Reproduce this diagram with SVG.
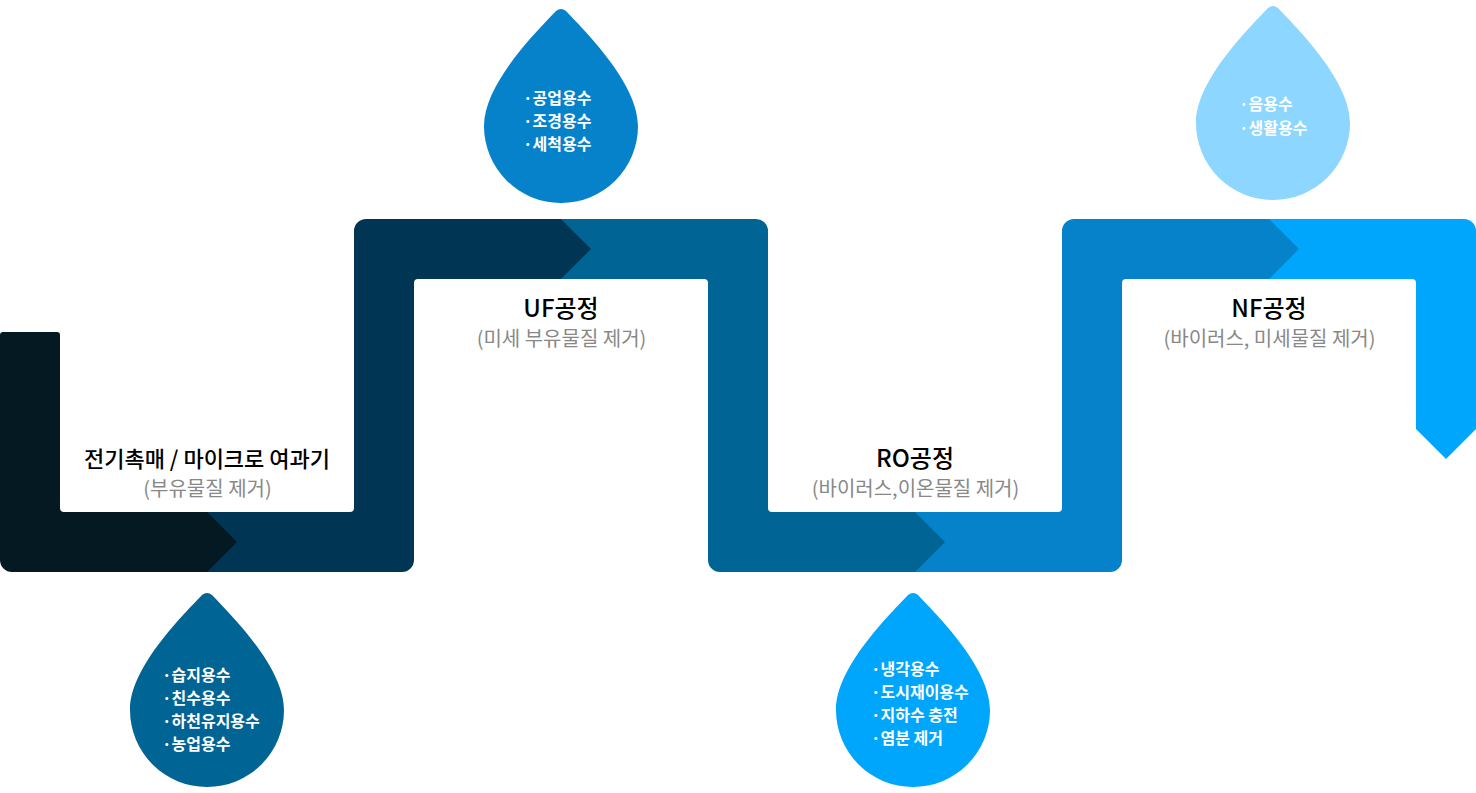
<svg xmlns="http://www.w3.org/2000/svg" width="1476" height="793" viewBox="0 0 1476 793">
<style>
text{font-family:"Noto Sans CJK KR","Noto Sans",sans-serif}
.t{font-size:24px;font-weight:500;fill:#000;text-anchor:middle}
.t2{font-size:22px;font-weight:500;fill:#000;text-anchor:middle}
.s{font-size:20px;font-weight:400;fill:#888;text-anchor:middle}
.d{font-size:16px;font-weight:700;fill:#fff}
</style>
<defs><path id="drop" d="M-5,2 Q0,-2 5,2 C29,27 77,76 77,117 A77,77 0 0 1 -77,117 C-77,76 -29,27 -5,2Z"/></defs>
<rect width="1476" height="793" fill="#fff"/>
<g id="connectors">
<path id="seg5" fill="#00a6fb" d="M1250,219H1464a12,12 0 0 1 12,12V429L1446,459L1416,429V283q0,-4 -4,-4H1250Z"/>
<path id="seg4" fill="#0582ca" d="M900,512H1058q4,0 4,-4V231a12,12 0 0 1 12,-12H1269L1299,249L1269,279H1126q-4,0 -4,4V560a12,12 0 0 1 -12,12H900Z"/>
<path id="seg3" fill="#006494" d="M545,219H756a12,12 0 0 1 12,12V508q0,4 4,4H915L945,542L915,572H720a12,12 0 0 1 -12,-12V283q0,-4 -4,-4H545Z"/>
<path id="seg2" fill="#003554" d="M190,512H350q4,0 4,-4V231a12,12 0 0 1 12,-12H561L591,249L561,279H418q-4,0 -4,4V560a12,12 0 0 1 -12,12H190Z"/>
<path id="seg1" fill="#051923" d="M3,332H57q3,0 3,3V508q0,4 4,4H207L237,542L207,572H12a12,12 0 0 1 -12,-12V335q0,-3 3,-3Z"/>
</g>
<g id="node-mf">
<text class="t2" x="207" y="467">전기촉매 / 마이크로 여과기</text>
<text class="s" x="207.500" y="496">(부유물질 제거)</text>
</g>
<g id="node-uf">
<text class="t" x="561" y="317">UF공정</text>
<text class="s" x="561.500" y="346">(미세 부유물질 제거)</text>
</g>
<g id="node-ro">
<text class="t" x="915" y="467">RO공정</text>
<text class="s" x="915.500" y="496">(바이러스,이온물질 제거)</text>
</g>
<g id="node-nf">
<text class="t" x="1269" y="317">NF공정</text>
<text class="s" x="1269.500" y="346">(바이러스, 미세물질 제거)</text>
</g>
<g id="drop-uf">
<use href="#drop" x="561" y="9" fill="#0582ca"/>
<text class="d" x="523" y="104">·공업용수</text>
<text class="d" x="523" y="127">·조경용수</text>
<text class="d" x="523" y="150">·세척용수</text>
</g>
<g id="drop-nf">
<use href="#drop" x="1273" y="6" fill="#8dd6ff"/>
<text class="d" x="1239" y="110">·음용수</text>
<text class="d" x="1239" y="134">·생활용수</text>
</g>
<g id="drop-mf">
<use href="#drop" x="207" y="593" fill="#006494"/>
<text class="d" x="162" y="681">·습지용수</text>
<text class="d" x="162" y="704">·친수용수</text>
<text class="d" x="162" y="727">·하천유지용수</text>
<text class="d" x="162" y="750">·농업용수</text>
</g>
<g id="drop-ro">
<use href="#drop" x="913" y="593" fill="#00a6fb"/>
<text class="d" x="871" y="675">·냉각용수</text>
<text class="d" x="871" y="698">·도시재이용수</text>
<text class="d" x="871" y="721">·지하수 충전</text>
<text class="d" x="871" y="744">·염분 제거</text>
</g>
</svg>
